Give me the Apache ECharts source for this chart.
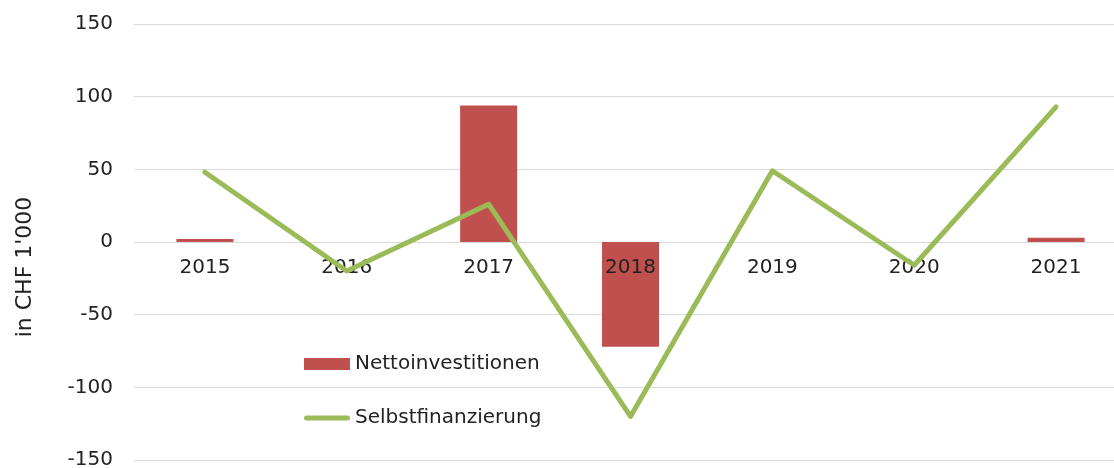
<!DOCTYPE html>
<html><head><meta charset="utf-8">
<script src="https://cdn.jsdelivr.net/npm/echarts@6/dist/echarts.min.js"></script>
<style>html,body{margin:0;padding:0;overflow:hidden;background:#fff}#c{width:1127px;height:468px}</style>
</head><body><div id="c"></div>
<script>
const categories = ['2015','2016','2017','2018','2019','2020','2021'];
const nettoinvestitionen = [2, 0, 94, -72, 0, 0, 3];
const selbstfinanzierung = [48, -20, 26, -120, 49, -16, 93];
const yTicks = { min: -150, max: 150, interval: 50 };

const font = 'DejaVu Sans';
const gridTop = 24, gridBottom = 8, H = 468;
const plotH = H - gridTop - gridBottom;
const zeroOffset = -plotH * (0 - yTicks.min) / (yTicks.max - yTicks.min);

const chart = echarts.init(document.getElementById('c'));
chart.setOption({
  animation: false,
  grid: { left: 134, right: 0, top: gridTop, bottom: gridBottom, containLabel: false, outerBoundsMode: 'none' },
  legend: {
    orient: 'vertical', left: 299, top: 349, itemWidth: 46, itemHeight: 12, itemGap: 34,
    textStyle: { fontFamily: font, fontSize: 20, color: '#222' },
    data: [
      { name: 'Nettoinvestitionen', icon: 'rect' },
      { name: 'Selbstfinanzierung', icon: 'path://M2.5,0 L43.5,0 A2.5,2.5 0 0 1 43.5,5 L2.5,5 A2.5,2.5 0 0 1 2.5,0 Z' }
    ]
  },
  xAxis: {
    type: 'category', data: categories, offset: zeroOffset, z: 3,
    axisLine: { show: false, onZero: false },
    axisTick: { show: false },
    axisLabel: { fontFamily: font, fontSize: 20, color: '#222', margin: 16 }
  },
  yAxis: {
    type: 'value', min: yTicks.min, max: yTicks.max, interval: yTicks.interval,
    name: "in CHF 1'000", nameLocation: 'middle', nameGap: 98, nameRotate: 90,
    nameTextStyle: { fontFamily: font, fontSize: 22, color: '#222', padding: [0, 50, 0, 0] },
    axisLine: { show: false }, axisTick: { show: false },
    axisLabel: { fontFamily: font, fontSize: 20, color: '#222', margin: 21 },
    splitLine: { lineStyle: { color: '#d9d9d9', width: 1 } }
  },
  series: [
    { name: 'Nettoinvestitionen', type: 'bar', data: nettoinvestitionen, barWidth: 57, z: 2,
      itemStyle: { color: '#C0504D' } },
    { name: 'Selbstfinanzierung', type: 'line', data: selbstfinanzierung, symbol: 'none', z: 4,
      lineStyle: { color: '#9BBB59', width: 5, cap: 'round', join: 'round' },
      itemStyle: { color: '#9BBB59' } }
  ]
});
</script></body></html>
